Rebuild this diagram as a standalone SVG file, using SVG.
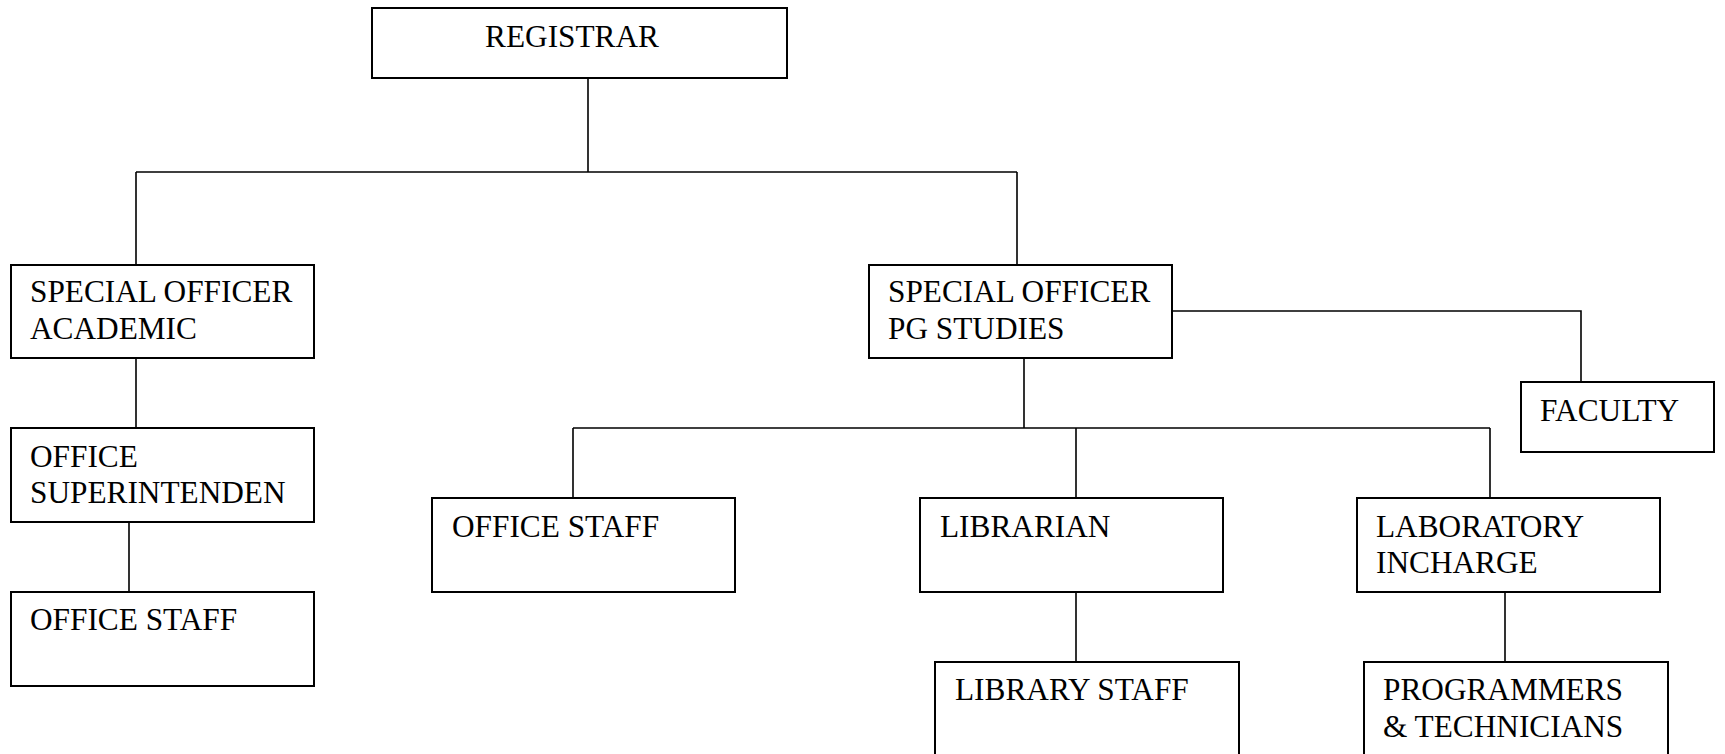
<svg xmlns="http://www.w3.org/2000/svg" width="1725" height="754" viewBox="0 0 1725 754">
<style>
.box{fill:#fff;stroke:#000;stroke-width:2}
.lbl{font-family:"Liberation Serif","Times New Roman",serif;font-size:31.3px;fill:#000}
.conn{fill:none;stroke:#000;stroke-width:1.6}
</style>
<rect width="1725" height="754" fill="#fff"/>
<g id="connectors">
<path class="conn" d="M588,78 V172 M136,172 H1017 M136,172 V265 M1017,172 V265"/>
<path class="conn" d="M1172,311 H1581 V382"/>
<path class="conn" d="M1024,358 V428 M573,428 H1490 M573,428 V498 M1076,428 V498 M1490,428 V498"/>
<path class="conn" d="M1076,592 V662 M1505,592 V662"/>
<path class="conn" d="M136,358 V428 M129,522 V592"/>
</g>
<g id="registrar"><rect class="box" x="372" y="8" width="415" height="70"/><text class="lbl" x="572" y="47" text-anchor="middle">REGISTRAR</text></g>
<g id="so-academic"><rect class="box" x="11" y="265" width="303" height="93"/><text class="lbl" x="30" y="302">SPECIAL OFFICER</text><text class="lbl" x="30" y="339">ACADEMIC</text></g>
<g id="so-pg"><rect class="box" x="869" y="265" width="303" height="93"/><text class="lbl" x="888" y="302">SPECIAL OFFICER</text><text class="lbl" x="888" y="339">PG STUDIES</text></g>
<g id="faculty"><rect class="box" x="1521" y="382" width="193" height="70"/><text class="lbl" x="1540" y="421">FACULTY</text></g>
<g id="office-supt"><rect class="box" x="11" y="428" width="303" height="94"/><text class="lbl" x="30" y="467">OFFICE</text><text class="lbl" x="30" y="503">SUPERINTENDEN</text></g>
<g id="office-staff-left"><rect class="box" x="11" y="592" width="303" height="94"/><text class="lbl" x="30" y="630">OFFICE STAFF</text></g>
<g id="office-staff-mid"><rect class="box" x="432" y="498" width="303" height="94"/><text class="lbl" x="452" y="537">OFFICE STAFF</text></g>
<g id="librarian"><rect class="box" x="920" y="498" width="303" height="94"/><text class="lbl" x="940" y="537">LIBRARIAN</text></g>
<g id="lab-incharge"><rect class="box" x="1357" y="498" width="303" height="94"/><text class="lbl" x="1376" y="537">LABORATORY</text><text class="lbl" x="1376" y="573">INCHARGE</text></g>
<g id="library-staff"><rect class="box" x="935" y="662" width="304" height="100"/><text class="lbl" x="955" y="700">LIBRARY STAFF</text></g>
<g id="programmers"><rect class="box" x="1364" y="662" width="304" height="100"/><text class="lbl" x="1383" y="700">PROGRAMMERS</text><text class="lbl" x="1383" y="737">&amp; TECHNICIANS</text></g>
</svg>
